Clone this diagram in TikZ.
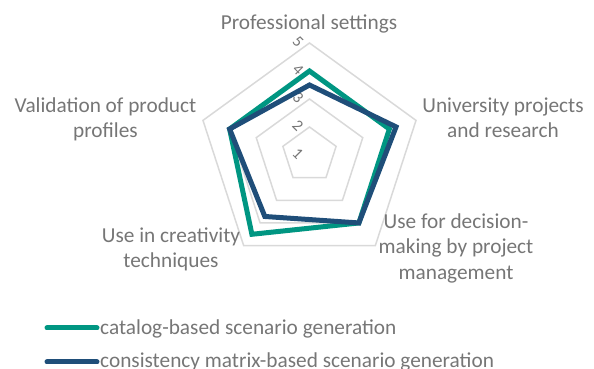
\documentclass[tikz,border=0pt]{standalone}
\usepackage{fontspec}
\setmainfont{Carlito}
\definecolor{gridgray}{RGB}{217,217,217}
\definecolor{txtgray}{RGB}{118,118,118}
\definecolor{catgreen}{RGB}{0,150,130}
\definecolor{cmblue}{RGB}{31,78,121}
\tikzset{
  gridline/.style={draw=gridgray, line width=1.5pt, line join=miter},
  series/.style={line width=5pt, line join=miter},
  lbl/.style={text=txtgray, font=\fontsize{21.3}{25.5}\selectfont, align=center, inner sep=0pt, anchor=base},
  tick/.style={text=txtgray, font=\fontsize{16}{16}\selectfont, inner sep=0pt, rotate=-45},
  legline/.style={line width=5pt, line cap=round},
  legtext/.style={text=txtgray, font=\fontsize{21.3}{25.5}\selectfont, inner sep=0pt, anchor=base west}
}
\begin{document}
\begin{tikzpicture}[x=1pt,y=1pt]
\useasboundingbox (0,0) rectangle (594,369);
\begin{scope}[shift={(309.5,214)}]
  \foreach \r in {28,56,84,112}
    \draw[gridline] (90:\r) -- (18:\r) -- (-54:\r) -- (-126:\r) -- (162:\r) -- cycle;
  \foreach \v in {1,...,5}
    \node[tick] (t\v) at (-11.5,{28*(\v-1)+1}) {\v};
  \coordinate (g1) at (90:84);
  \coordinate (g2) at (18:84);
  \coordinate (g3) at (-54:84);
  \coordinate (g4) at (-126:98);
  \coordinate (g5) at (162:84);
  \coordinate (b1) at (90:70);
  \coordinate (b2) at (18:91);
  \coordinate (b3) at (-54:84);
  \coordinate (b4) at (-126:76);
  \coordinate (b5) at (162:84);
  \draw[series, catgreen] (g1) -- (g2) -- (g3) -- (g4) -- (g5) -- cycle;
  \draw[series, cmblue] (b1) -- (b2) -- (b3) -- (b4) -- (b5) -- cycle;
\end{scope}
\node[lbl] (prof) at (309,339) {Professional settings};
\node[lbl] (valid) at (105.5,231) {Validation of product\\profiles};
\node[lbl] (univ) at (503,231) {University projects\\and research};
\node[lbl] (dec) at (456,89.5) {Use for decision-\\making by project\\management};
\node[lbl] (crea) at (171,101) {Use in creativity\\techniques};
\coordinate (l1a) at (47,41);
\coordinate (l1b) at (97,41);
\coordinate (l2a) at (47,7);
\coordinate (l2b) at (97,7);
\draw[legline, catgreen] (l1a) -- (l1b);
\draw[legline, cmblue] (l2a) -- (l2b);
\node[legtext] (leg1) at (100,34) {catalog-based scenario generation};
\node[legtext] (leg2) at (100,1) {consistency matrix-based scenario generation};
\end{tikzpicture}
\end{document}
